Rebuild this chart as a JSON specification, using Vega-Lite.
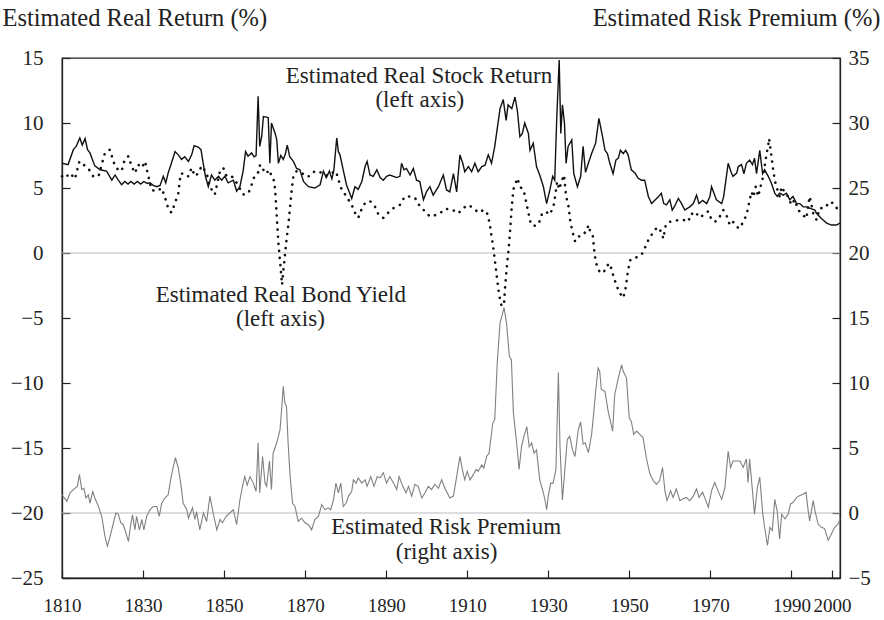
{
  "$schema": "https://vega.github.io/schema/vega-lite/v6.json",
  "width": 778,
  "height": 520,
  "autosize": {"type": "none"},
  "padding": {"left": 62, "top": 58, "right": 44, "bottom": 42},
  "background": "white",
  "config": {
    "font": "Liberation Serif",
    "view": {"stroke": "#222", "strokeWidth": 1.3},
    "axis": {
      "domainColor": "#222", "tickColor": "#222", "labelColor": "#222", "titleColor": "#222",
      "labelFont": "Liberation Serif", "titleFont": "Liberation Serif",
      "labelFontSize": 21, "titleFontSize": 24.5, "titleFontWeight": "normal",
      "grid": false, "tickSize": -8, "domainWidth": 1.3, "tickWidth": 1.2, "labelOverlap": false, "labelFlush": false
    },
    "axisX": {"labelFontSize": 19}
  },
  "datasets": {
    "stock": [
      {"year":1810.0,"v":6.9},{"year":1811.5,"v":6.8},{"year":1812.8,"v":7.95},{"year":1813.5,"v":8.2},{"year":1814.4,"v":8.85},{"year":1815.0,"v":8.3},{"year":1815.7,"v":8.8},{"year":1816.3,"v":7.95},{"year":1816.9,"v":7.7},{"year":1817.5,"v":7.2},{"year":1818.1,"v":6.7},{"year":1819.4,"v":6.4},{"year":1821.0,"v":6.3},{"year":1822.3,"v":5.6},{"year":1823.1,"v":6.0},{"year":1823.9,"v":5.6},{"year":1824.7,"v":5.25},{"year":1825.5,"v":5.5},{"year":1826.3,"v":5.3},{"year":1827.0,"v":5.5},{"year":1827.8,"v":5.3},{"year":1828.6,"v":5.5},{"year":1829.4,"v":5.3},{"year":1830.2,"v":5.5},{"year":1831.0,"v":5.35},{"year":1831.7,"v":5.4},{"year":1832.5,"v":5.2},{"year":1833.4,"v":5.1},{"year":1834.2,"v":5.2},{"year":1835.0,"v":5.9},{"year":1835.6,"v":5.4},{"year":1836.2,"v":6.15},{"year":1837.0,"v":6.9},{"year":1837.9,"v":7.8},{"year":1838.7,"v":7.55},{"year":1839.5,"v":7.2},{"year":1840.3,"v":7.4},{"year":1841.2,"v":7.05},{"year":1842.0,"v":7.55},{"year":1842.6,"v":8.25},{"year":1843.6,"v":8.15},{"year":1844.3,"v":7.95},{"year":1844.9,"v":6.8},{"year":1845.4,"v":5.9},{"year":1846.1,"v":5.1},{"year":1846.9,"v":6.0},{"year":1847.7,"v":5.6},{"year":1848.6,"v":5.9},{"year":1849.4,"v":5.6},{"year":1850.2,"v":5.9},{"year":1851.0,"v":5.4},{"year":1852.3,"v":5.6},{"year":1853.1,"v":4.75},{"year":1853.9,"v":5.1},{"year":1854.7,"v":6.3},{"year":1855.3,"v":7.8},{"year":1855.9,"v":7.45},{"year":1856.8,"v":7.7},{"year":1857.4,"v":7.4},{"year":1857.9,"v":7.5},{"year":1858.4,"v":12.05},{"year":1858.8,"v":8.2},{"year":1859.3,"v":9.0},{"year":1859.7,"v":10.5},{"year":1860.5,"v":10.45},{"year":1860.9,"v":10.4},{"year":1861.3,"v":6.9},{"year":1861.7,"v":10.0},{"year":1862.6,"v":9.2},{"year":1863.0,"v":8.7},{"year":1863.4,"v":6.9},{"year":1864.0,"v":7.5},{"year":1864.6,"v":7.2},{"year":1865.1,"v":7.6},{"year":1865.6,"v":8.3},{"year":1866.2,"v":7.4},{"year":1867.1,"v":7.05},{"year":1867.9,"v":6.5},{"year":1868.7,"v":6.4},{"year":1869.6,"v":5.5},{"year":1870.8,"v":5.1},{"year":1872.4,"v":5.0},{"year":1873.7,"v":5.25},{"year":1874.5,"v":6.3},{"year":1875.2,"v":5.8},{"year":1876.0,"v":6.3},{"year":1876.6,"v":5.7},{"year":1877.1,"v":6.4},{"year":1877.8,"v":8.85},{"year":1878.2,"v":7.8},{"year":1878.6,"v":7.55},{"year":1879.4,"v":6.4},{"year":1880.2,"v":5.25},{"year":1881.5,"v":4.2},{"year":1882.3,"v":5.1},{"year":1883.1,"v":4.9},{"year":1884.0,"v":5.5},{"year":1884.8,"v":6.65},{"year":1885.3,"v":7.05},{"year":1886.0,"v":6.0},{"year":1886.8,"v":5.9},{"year":1887.7,"v":6.4},{"year":1888.5,"v":5.8},{"year":1889.3,"v":5.6},{"year":1890.1,"v":5.9},{"year":1890.9,"v":6.0},{"year":1891.8,"v":5.9},{"year":1892.6,"v":5.8},{"year":1893.4,"v":5.9},{"year":1893.8,"v":6.9},{"year":1894.4,"v":6.4},{"year":1895.0,"v":6.5},{"year":1895.9,"v":6.0},{"year":1896.7,"v":6.5},{"year":1897.5,"v":5.6},{"year":1898.3,"v":5.5},{"year":1899.2,"v":4.1},{"year":1900.0,"v":4.75},{"year":1900.8,"v":5.1},{"year":1901.6,"v":4.45},{"year":1902.9,"v":5.1},{"year":1904.1,"v":6.0},{"year":1904.9,"v":4.85},{"year":1905.7,"v":4.7},{"year":1906.6,"v":6.1},{"year":1907.4,"v":4.7},{"year":1908.2,"v":7.55},{"year":1908.9,"v":6.9},{"year":1909.4,"v":6.25},{"year":1910.3,"v":6.65},{"year":1911.1,"v":6.25},{"year":1911.9,"v":6.9},{"year":1912.7,"v":6.25},{"year":1913.6,"v":6.65},{"year":1914.4,"v":6.75},{"year":1915.2,"v":7.55},{"year":1916.0,"v":6.9},{"year":1916.8,"v":8.2},{"year":1918.1,"v":11.1},{"year":1918.9,"v":11.8},{"year":1919.6,"v":10.2},{"year":1920.1,"v":11.4},{"year":1921.0,"v":11.1},{"year":1921.8,"v":12.0},{"year":1922.4,"v":10.9},{"year":1923.0,"v":8.95},{"year":1923.6,"v":9.2},{"year":1924.2,"v":10.0},{"year":1925.1,"v":9.2},{"year":1925.5,"v":7.9},{"year":1926.3,"v":8.45},{"year":1927.1,"v":6.65},{"year":1928.0,"v":5.9},{"year":1928.8,"v":5.1},{"year":1929.6,"v":3.8},{"year":1930.4,"v":4.85},{"year":1931.1,"v":5.9},{"year":1931.6,"v":5.6},{"year":1932.1,"v":10.4},{"year":1932.7,"v":14.85},{"year":1933.1,"v":9.2},{"year":1933.5,"v":11.4},{"year":1934.0,"v":10.0},{"year":1934.4,"v":6.9},{"year":1934.9,"v":8.2},{"year":1935.8,"v":8.7},{"year":1936.3,"v":6.1},{"year":1937.2,"v":5.1},{"year":1938.0,"v":5.9},{"year":1938.6,"v":8.2},{"year":1939.2,"v":6.2},{"year":1939.9,"v":6.9},{"year":1940.7,"v":7.65},{"year":1941.7,"v":8.45},{"year":1942.5,"v":10.35},{"year":1943.4,"v":8.95},{"year":1944.0,"v":7.9},{"year":1944.6,"v":7.65},{"year":1945.2,"v":6.9},{"year":1946.0,"v":6.1},{"year":1946.7,"v":7.15},{"year":1947.3,"v":7.3},{"year":1947.8,"v":7.9},{"year":1948.5,"v":7.65},{"year":1949.1,"v":7.9},{"year":1949.7,"v":7.55},{"year":1950.5,"v":6.4},{"year":1951.4,"v":6.15},{"year":1952.2,"v":5.75},{"year":1953.0,"v":5.6},{"year":1953.8,"v":5.6},{"year":1954.7,"v":4.35},{"year":1955.5,"v":3.8},{"year":1956.3,"v":4.05},{"year":1957.1,"v":4.3},{"year":1957.9,"v":4.6},{"year":1958.5,"v":3.8},{"year":1959.2,"v":3.7},{"year":1960.0,"v":4.1},{"year":1960.6,"v":3.3},{"year":1961.2,"v":3.6},{"year":1962.1,"v":4.2},{"year":1962.9,"v":3.8},{"year":1963.7,"v":3.3},{"year":1964.9,"v":3.55},{"year":1965.8,"v":3.8},{"year":1966.6,"v":4.45},{"year":1967.2,"v":3.8},{"year":1968.1,"v":4.05},{"year":1969.1,"v":3.8},{"year":1969.9,"v":4.35},{"year":1970.3,"v":5.1},{"year":1970.9,"v":4.6},{"year":1971.5,"v":4.1},{"year":1972.8,"v":3.8},{"year":1973.3,"v":4.35},{"year":1974.4,"v":6.9},{"year":1975.2,"v":6.15},{"year":1975.6,"v":5.9},{"year":1976.5,"v":6.15},{"year":1976.9,"v":6.65},{"year":1977.7,"v":6.8},{"year":1978.3,"v":6.1},{"year":1978.9,"v":6.9},{"year":1979.7,"v":7.15},{"year":1980.4,"v":6.8},{"year":1980.9,"v":7.3},{"year":1981.4,"v":6.1},{"year":1982.2,"v":7.9},{"year":1982.9,"v":6.1},{"year":1983.4,"v":6.4},{"year":1984.3,"v":5.9},{"year":1985.1,"v":5.35},{"year":1985.9,"v":4.6},{"year":1986.5,"v":4.35},{"year":1987.1,"v":4.6},{"year":1988.0,"v":4.45},{"year":1988.8,"v":4.6},{"year":1989.6,"v":4.1},{"year":1990.4,"v":4.35},{"year":1991.3,"v":3.8},{"year":1992.1,"v":3.8},{"year":1992.9,"v":3.55},{"year":1993.7,"v":3.55},{"year":1995.0,"v":3.4},{"year":1995.8,"v":3.3},{"year":1996.2,"v":3.05},{"year":1997.4,"v":2.65},{"year":1998.7,"v":2.3},{"year":1999.9,"v":2.15},{"year":2001.1,"v":2.15},{"year":2002.0,"v":2.3}
    ],
    "bond": [
      {"year":1810.0,"v":5.9},{"year":1810.7,"v":5.75},{"year":1812.0,"v":6.15},{"year":1813.2,"v":5.7},{"year":1814.3,"v":7.05},{"year":1815.3,"v":6.8},{"year":1816.5,"v":6.5},{"year":1817.7,"v":5.9},{"year":1819.0,"v":5.9},{"year":1820.6,"v":7.7},{"year":1821.8,"v":7.95},{"year":1822.7,"v":7.05},{"year":1823.1,"v":6.65},{"year":1823.9,"v":6.4},{"year":1824.7,"v":6.3},{"year":1825.5,"v":7.2},{"year":1826.4,"v":7.45},{"year":1827.2,"v":6.65},{"year":1828.0,"v":6.15},{"year":1828.8,"v":6.8},{"year":1829.7,"v":6.55},{"year":1830.5,"v":7.05},{"year":1831.3,"v":5.9},{"year":1832.1,"v":4.85},{"year":1833.4,"v":4.75},{"year":1834.6,"v":5.0},{"year":1835.6,"v":4.1},{"year":1836.2,"v":3.45},{"year":1837.0,"v":3.1},{"year":1837.9,"v":3.85},{"year":1838.7,"v":4.6},{"year":1839.1,"v":5.65},{"year":1839.5,"v":6.15},{"year":1840.3,"v":5.9},{"year":1841.2,"v":5.9},{"year":1842.0,"v":6.55},{"year":1842.8,"v":5.9},{"year":1843.5,"v":6.1},{"year":1844.5,"v":6.7},{"year":1845.7,"v":6.15},{"year":1846.5,"v":5.1},{"year":1847.7,"v":4.5},{"year":1849.0,"v":6.3},{"year":1849.8,"v":6.55},{"year":1850.6,"v":5.9},{"year":1851.9,"v":5.9},{"year":1853.1,"v":5.4},{"year":1854.7,"v":4.5},{"year":1856.0,"v":4.6},{"year":1856.8,"v":5.25},{"year":1857.6,"v":6.0},{"year":1858.4,"v":6.2},{"year":1858.9,"v":6.8},{"year":1859.7,"v":6.4},{"year":1860.3,"v":6.1},{"year":1861.2,"v":6.4},{"year":1861.7,"v":5.9},{"year":1862.2,"v":5.7},{"year":1862.6,"v":4.9},{"year":1863.0,"v":2.8},{"year":1863.4,"v":0.8},{"year":1864.0,"v":-1.3},{"year":1864.3,"v":-2.45},{"year":1864.6,"v":-1.4},{"year":1865.0,"v":-0.2},{"year":1865.4,"v":1.0},{"year":1865.9,"v":2.3},{"year":1866.3,"v":3.6},{"year":1866.7,"v":4.9},{"year":1867.1,"v":5.9},{"year":1867.9,"v":6.3},{"year":1869.1,"v":6.2},{"year":1870.0,"v":5.9},{"year":1871.0,"v":5.9},{"year":1872.4,"v":6.3},{"year":1873.3,"v":6.3},{"year":1874.1,"v":6.15},{"year":1874.9,"v":6.0},{"year":1875.7,"v":5.95},{"year":1876.5,"v":6.15},{"year":1877.6,"v":6.3},{"year":1878.2,"v":5.65},{"year":1879.0,"v":4.9},{"year":1880.2,"v":4.35},{"year":1881.5,"v":3.7},{"year":1882.3,"v":3.1},{"year":1883.1,"v":2.7},{"year":1883.9,"v":3.35},{"year":1884.8,"v":3.85},{"year":1886.0,"v":4.0},{"year":1887.2,"v":3.6},{"year":1888.1,"v":2.95},{"year":1889.3,"v":2.7},{"year":1890.5,"v":3.1},{"year":1891.8,"v":3.45},{"year":1893.4,"v":3.7},{"year":1894.6,"v":4.35},{"year":1895.9,"v":4.35},{"year":1897.1,"v":4.25},{"year":1898.3,"v":3.6},{"year":1899.6,"v":3.2},{"year":1900.8,"v":2.8},{"year":1902.0,"v":2.9},{"year":1903.3,"v":3.05},{"year":1904.5,"v":3.4},{"year":1906.2,"v":3.35},{"year":1907.8,"v":3.05},{"year":1909.0,"v":3.45},{"year":1910.3,"v":3.7},{"year":1911.5,"v":3.45},{"year":1912.8,"v":3.1},{"year":1914.0,"v":3.3},{"year":1914.8,"v":3.2},{"year":1915.6,"v":2.2},{"year":1916.0,"v":1.3},{"year":1916.5,"v":0.25},{"year":1916.9,"v":-0.75},{"year":1917.3,"v":-1.8},{"year":1917.7,"v":-2.8},{"year":1918.1,"v":-3.6},{"year":1918.5,"v":-4.1},{"year":1919.1,"v":-3.85},{"year":1919.3,"v":-2.8},{"year":1919.7,"v":-1.3},{"year":1920.2,"v":0.25},{"year":1920.6,"v":1.8},{"year":1921.0,"v":3.6},{"year":1921.4,"v":4.9},{"year":1921.8,"v":5.25},{"year":1922.4,"v":5.75},{"year":1923.0,"v":5.1},{"year":1923.9,"v":4.85},{"year":1924.5,"v":4.0},{"year":1925.1,"v":3.1},{"year":1925.7,"v":2.2},{"year":1926.7,"v":2.1},{"year":1927.6,"v":2.2},{"year":1928.4,"v":2.95},{"year":1929.2,"v":3.2},{"year":1929.8,"v":3.1},{"year":1930.4,"v":2.95},{"year":1931.3,"v":3.6},{"year":1931.8,"v":4.6},{"year":1932.2,"v":5.5},{"year":1932.7,"v":4.9},{"year":1933.3,"v":5.5},{"year":1933.9,"v":6.0},{"year":1934.4,"v":4.35},{"year":1935.0,"v":3.6},{"year":1935.5,"v":2.3},{"year":1936.0,"v":1.65},{"year":1936.6,"v":0.9},{"year":1937.2,"v":1.0},{"year":1937.8,"v":1.4},{"year":1938.7,"v":1.5},{"year":1939.5,"v":1.65},{"year":1939.9,"v":2.15},{"year":1940.5,"v":1.5},{"year":1941.0,"v":1.3},{"year":1941.5,"v":-0.25},{"year":1942.0,"v":-1.0},{"year":1942.6,"v":-1.4},{"year":1943.6,"v":-1.55},{"year":1944.4,"v":-1.0},{"year":1945.2,"v":-0.8},{"year":1946.1,"v":-1.8},{"year":1946.9,"v":-2.55},{"year":1947.7,"v":-3.1},{"year":1948.5,"v":-3.45},{"year":1949.1,"v":-2.7},{"year":1949.7,"v":-1.3},{"year":1950.3,"v":-0.5},{"year":1951.0,"v":-0.4},{"year":1952.2,"v":-0.3},{"year":1953.0,"v":-0.15},{"year":1953.8,"v":0.35},{"year":1954.7,"v":1.0},{"year":1955.7,"v":1.5},{"year":1956.9,"v":2.0},{"year":1957.9,"v":1.65},{"year":1958.4,"v":1.1},{"year":1959.0,"v":2.15},{"year":1959.8,"v":2.4},{"year":1960.8,"v":2.4},{"year":1962.1,"v":2.55},{"year":1963.3,"v":2.55},{"year":1964.5,"v":2.4},{"year":1965.4,"v":3.05},{"year":1966.2,"v":2.8},{"year":1967.0,"v":3.05},{"year":1967.8,"v":2.8},{"year":1968.6,"v":3.05},{"year":1969.5,"v":3.2},{"year":1970.3,"v":2.55},{"year":1971.1,"v":2.4},{"year":1971.9,"v":2.55},{"year":1973.2,"v":3.3},{"year":1974.0,"v":2.9},{"year":1974.8,"v":2.15},{"year":1975.6,"v":2.4},{"year":1976.5,"v":2.0},{"year":1977.3,"v":1.9},{"year":1978.1,"v":2.4},{"year":1978.9,"v":2.9},{"year":1979.3,"v":3.4},{"year":1979.7,"v":4.1},{"year":1980.2,"v":4.7},{"year":1980.6,"v":4.3},{"year":1981.2,"v":5.1},{"year":1981.8,"v":4.35},{"year":1982.6,"v":5.35},{"year":1983.0,"v":5.85},{"year":1983.4,"v":6.65},{"year":1983.9,"v":7.65},{"year":1984.3,"v":8.3},{"year":1984.5,"v":8.8},{"year":1985.1,"v":7.4},{"year":1985.5,"v":6.4},{"year":1985.9,"v":5.6},{"year":1986.3,"v":5.1},{"year":1987.1,"v":4.35},{"year":1987.6,"v":5.1},{"year":1988.4,"v":4.6},{"year":1989.2,"v":4.35},{"year":1990.0,"v":3.7},{"year":1990.8,"v":4.1},{"year":1991.7,"v":3.3},{"year":1992.5,"v":3.05},{"year":1993.7,"v":2.65},{"year":1994.5,"v":4.35},{"year":1995.4,"v":3.05},{"year":1996.2,"v":2.55},{"year":1997.0,"v":3.45},{"year":1998.2,"v":3.45},{"year":1999.5,"v":3.95},{"year":2000.5,"v":3.8},{"year":2001.5,"v":3.3}
    ],
    "premium": [
      {"year":1810.0,"v":1.4},{"year":1811.2,"v":0.9},{"year":1812.0,"v":1.55},{"year":1812.8,"v":1.8},{"year":1813.8,"v":2.05},{"year":1814.3,"v":2.95},{"year":1814.9,"v":1.8},{"year":1815.4,"v":1.9},{"year":1815.9,"v":1.15},{"year":1816.5,"v":1.4},{"year":1816.9,"v":0.75},{"year":1817.6,"v":1.65},{"year":1818.1,"v":1.15},{"year":1819.0,"v":0.5},{"year":1819.8,"v":-0.25},{"year":1820.6,"v":-1.8},{"year":1821.2,"v":-2.55},{"year":1821.8,"v":-1.9},{"year":1822.7,"v":-0.75},{"year":1823.3,"v":0.0},{"year":1823.9,"v":-0.1},{"year":1824.5,"v":-0.75},{"year":1825.1,"v":-0.9},{"year":1825.8,"v":-1.55},{"year":1826.4,"v":-2.2},{"year":1826.9,"v":-1.0},{"year":1827.4,"v":-0.15},{"year":1828.0,"v":-1.3},{"year":1828.4,"v":-0.25},{"year":1829.1,"v":-1.3},{"year":1829.7,"v":-0.5},{"year":1830.2,"v":-1.3},{"year":1830.9,"v":-0.25},{"year":1831.7,"v":0.25},{"year":1832.5,"v":0.5},{"year":1833.4,"v":0.5},{"year":1834.0,"v":-0.25},{"year":1834.6,"v":0.75},{"year":1835.4,"v":1.15},{"year":1836.2,"v":1.4},{"year":1836.8,"v":2.55},{"year":1837.5,"v":3.6},{"year":1838.0,"v":4.25},{"year":1838.7,"v":3.45},{"year":1839.3,"v":2.3},{"year":1839.9,"v":0.75},{"year":1840.8,"v":0.25},{"year":1841.2,"v":-0.4},{"year":1841.7,"v":0.0},{"year":1842.2,"v":0.4},{"year":1842.8,"v":-0.5},{"year":1843.2,"v":0.1},{"year":1844.0,"v":-1.3},{"year":1844.9,"v":0.0},{"year":1845.7,"v":-0.65},{"year":1846.5,"v":1.3},{"year":1847.3,"v":0.0},{"year":1848.2,"v":-1.3},{"year":1849.0,"v":-0.5},{"year":1849.6,"v":-0.75},{"year":1850.5,"v":-0.25},{"year":1851.4,"v":0.0},{"year":1852.3,"v":0.25},{"year":1853.1,"v":-0.9},{"year":1853.9,"v":1.0},{"year":1854.7,"v":2.3},{"year":1855.1,"v":2.8},{"year":1855.7,"v":2.15},{"year":1856.4,"v":2.8},{"year":1857.2,"v":2.3},{"year":1857.9,"v":1.65},{"year":1858.4,"v":5.4},{"year":1858.8,"v":1.55},{"year":1859.5,"v":4.35},{"year":1860.1,"v":2.3},{"year":1860.5,"v":2.05},{"year":1861.2,"v":4.0},{"year":1861.7,"v":1.8},{"year":1862.1,"v":4.6},{"year":1863.0,"v":5.4},{"year":1863.8,"v":6.4},{"year":1864.2,"v":7.95},{"year":1864.6,"v":9.75},{"year":1865.0,"v":8.45},{"year":1865.4,"v":8.2},{"year":1865.8,"v":5.4},{"year":1866.3,"v":2.8},{"year":1866.9,"v":0.75},{"year":1867.5,"v":0.5},{"year":1868.3,"v":-0.65},{"year":1869.1,"v":-0.4},{"year":1870.0,"v":-0.75},{"year":1870.8,"v":-0.9},{"year":1871.6,"v":-1.3},{"year":1872.4,"v":-0.5},{"year":1873.3,"v":-0.25},{"year":1874.1,"v":0.65},{"year":1874.9,"v":0.25},{"year":1875.7,"v":0.4},{"year":1876.3,"v":0.25},{"year":1877.0,"v":1.0},{"year":1877.6,"v":2.3},{"year":1878.2,"v":1.55},{"year":1878.8,"v":2.3},{"year":1879.4,"v":0.5},{"year":1880.1,"v":0.75},{"year":1880.7,"v":1.3},{"year":1881.5,"v":1.65},{"year":1881.9,"v":2.55},{"year":1882.6,"v":2.3},{"year":1883.1,"v":2.7},{"year":1884.0,"v":2.3},{"year":1884.8,"v":2.55},{"year":1885.3,"v":2.05},{"year":1886.2,"v":2.8},{"year":1887.0,"v":2.05},{"year":1887.8,"v":2.8},{"year":1888.5,"v":2.7},{"year":1889.3,"v":3.1},{"year":1890.1,"v":2.3},{"year":1890.9,"v":2.8},{"year":1891.8,"v":2.3},{"year":1892.6,"v":1.8},{"year":1893.2,"v":2.8},{"year":1894.1,"v":2.05},{"year":1894.9,"v":1.55},{"year":1895.5,"v":2.05},{"year":1896.3,"v":1.3},{"year":1897.1,"v":2.2},{"year":1897.9,"v":2.05},{"year":1898.8,"v":1.15},{"year":1899.6,"v":1.55},{"year":1900.4,"v":2.05},{"year":1901.2,"v":1.8},{"year":1902.0,"v":2.2},{"year":1902.9,"v":1.9},{"year":1903.7,"v":2.55},{"year":1904.5,"v":1.9},{"year":1905.7,"v":1.15},{"year":1906.6,"v":1.3},{"year":1907.4,"v":2.8},{"year":1908.2,"v":4.35},{"year":1908.9,"v":3.2},{"year":1909.4,"v":2.55},{"year":1910.0,"v":3.2},{"year":1910.7,"v":2.55},{"year":1911.5,"v":2.95},{"year":1912.2,"v":3.35},{"year":1912.7,"v":3.2},{"year":1913.6,"v":3.7},{"year":1914.1,"v":3.45},{"year":1914.8,"v":4.35},{"year":1915.4,"v":4.6},{"year":1916.3,"v":6.9},{"year":1916.8,"v":7.2},{"year":1917.4,"v":11.5},{"year":1918.1,"v":14.6},{"year":1919.1,"v":15.8},{"year":1919.7,"v":14.6},{"year":1920.4,"v":12.05},{"year":1920.9,"v":11.8},{"year":1921.4,"v":7.7},{"year":1922.2,"v":5.4},{"year":1922.8,"v":3.35},{"year":1923.4,"v":5.1},{"year":1924.0,"v":5.9},{"year":1924.7,"v":6.65},{"year":1925.3,"v":5.1},{"year":1925.9,"v":5.4},{"year":1926.5,"v":4.6},{"year":1927.1,"v":4.85},{"year":1927.9,"v":2.55},{"year":1928.8,"v":1.55},{"year":1929.2,"v":1.0},{"year":1929.6,"v":0.25},{"year":1930.0,"v":1.3},{"year":1930.6,"v":2.3},{"year":1931.2,"v":2.3},{"year":1931.9,"v":3.35},{"year":1932.5,"v":10.8},{"year":1932.9,"v":5.1},{"year":1933.5,"v":1.0},{"year":1934.1,"v":3.35},{"year":1934.7,"v":5.65},{"year":1935.3,"v":5.9},{"year":1936.0,"v":4.85},{"year":1936.6,"v":4.35},{"year":1937.4,"v":6.4},{"year":1938.0,"v":7.0},{"year":1938.6,"v":5.3},{"year":1939.1,"v":5.4},{"year":1939.9,"v":4.65},{"year":1940.7,"v":6.05},{"year":1941.1,"v":7.3},{"year":1941.7,"v":9.35},{"year":1942.3,"v":11.15},{"year":1942.7,"v":10.9},{"year":1943.1,"v":9.5},{"year":1944.0,"v":9.35},{"year":1944.8,"v":7.8},{"year":1945.9,"v":6.3},{"year":1946.4,"v":9.1},{"year":1947.3,"v":10.4},{"year":1948.1,"v":11.4},{"year":1948.5,"v":10.9},{"year":1949.3,"v":10.4},{"year":1950.0,"v":7.3},{"year":1950.5,"v":7.05},{"year":1951.1,"v":6.05},{"year":1951.8,"v":6.3},{"year":1952.6,"v":6.05},{"year":1953.4,"v":5.8},{"year":1954.2,"v":4.25},{"year":1955.1,"v":3.0},{"year":1955.9,"v":2.5},{"year":1956.7,"v":2.2},{"year":1957.5,"v":2.5},{"year":1958.2,"v":3.5},{"year":1958.8,"v":1.7},{"year":1959.3,"v":0.95},{"year":1960.2,"v":1.7},{"year":1960.8,"v":1.2},{"year":1961.6,"v":1.85},{"year":1962.5,"v":0.95},{"year":1963.3,"v":1.1},{"year":1964.1,"v":1.2},{"year":1964.9,"v":0.95},{"year":1965.8,"v":1.3},{"year":1966.6,"v":1.85},{"year":1967.2,"v":1.2},{"year":1968.1,"v":1.6},{"year":1968.9,"v":0.95},{"year":1969.5,"v":0.45},{"year":1970.3,"v":1.7},{"year":1971.1,"v":2.35},{"year":1971.9,"v":1.7},{"year":1972.8,"v":1.05},{"year":1973.6,"v":1.95},{"year":1974.4,"v":4.75},{"year":1975.0,"v":3.5},{"year":1975.6,"v":4.0},{"year":1976.5,"v":4.0},{"year":1977.3,"v":4.0},{"year":1978.1,"v":3.5},{"year":1978.9,"v":4.15},{"year":1979.3,"v":2.35},{"year":1979.7,"v":4.15},{"year":1980.4,"v":1.7},{"year":1980.9,"v":-0.1},{"year":1981.6,"v":1.95},{"year":1982.2,"v":2.75},{"year":1982.9,"v":0.05},{"year":1983.4,"v":-1.1},{"year":1984.1,"v":-2.5},{"year":1984.7,"v":-1.1},{"year":1985.3,"v":-1.35},{"year":1985.9,"v":1.05},{"year":1986.5,"v":0.15},{"year":1987.1,"v":-2.0},{"year":1987.6,"v":-0.1},{"year":1988.4,"v":-0.45},{"year":1989.2,"v":-0.1},{"year":1989.8,"v":0.7},{"year":1990.4,"v":0.8},{"year":1991.3,"v":1.2},{"year":1992.1,"v":1.35},{"year":1992.9,"v":1.45},{"year":1993.6,"v":1.6},{"year":1994.1,"v":0.3},{"year":1994.5,"v":-0.6},{"year":1995.4,"v":0.95},{"year":1995.8,"v":0.2},{"year":1996.6,"v":-0.85},{"year":1997.4,"v":-1.1},{"year":1998.2,"v":-1.2},{"year":1999.1,"v":-2.1},{"year":1999.9,"v":-1.6},{"year":2000.7,"v":-1.1},{"year":2001.5,"v":-0.85},{"year":2002.0,"v":-0.45}
    ],
    "labels": [
      {"text":"Estimated Real Stock Return","year":1898.1,"v":13.05},
      {"text":"(left axis)","year":1898.3,"v":11.2},
      {"text":"Estimated Real Bond Yield","year":1864.0,"v":-3.8},
      {"text":"(left axis)","year":1863.9,"v":-5.65},
      {"text":"Estimated Risk Premium","year":1904.8,"v":-21.65},
      {"text":"(right axis)","year":1904.9,"v":-23.5}
    ],
    "refs": [{"v":0},{"v":-20}]
  },
  "layer": [
    {
      "layer": [
        {
          "data": {"name": "refs"},
          "mark": {"type": "rule", "color": "#bbbbbb", "strokeWidth": 1},
          "encoding": {
            "y": {"field": "v", "type": "quantitative", "scale": {"domain": [-25, 15], "nice": false},
              "axis": {"orient": "left", "values": [-25,-20,-15,-10,-5,0,5,10,15], "labelPadding": 27,
                "title": "Estimated Real Return (%)", "titleAngle": 0, "titleAlign": "left", "titleBaseline": "alphabetic", "titleX": -60, "titleY": -33}}
          }
        },
        {
          "data": {"name": "bond"},
          "mark": {"type": "line", "color": "#111", "strokeWidth": 2.6, "strokeDash": [0.1, 7], "strokeCap": "round"},
          "encoding": {
            "x": {"field": "year", "type": "quantitative", "scale": {"domain": [1810, 2002], "nice": false, "zero": false},
              "axis": {"values": [1810,1830,1850,1870,1890,1910,1930,1950,1970,1990,2000], "format": "d", "labelPadding": 26, "title": null}},
            "y": {"field": "v", "type": "quantitative"}
          }
        },
        {
          "data": {"name": "stock"},
          "mark": {"type": "line", "color": "#111", "strokeWidth": 1.4},
          "encoding": {
            "x": {"field": "year", "type": "quantitative", "scale": {"domain": [1810, 2002], "nice": false, "zero": false},
              "axis": {"values": [1810,1830,1850,1870,1890,1910,1930,1950,1970,1990,2000], "format": "d", "labelPadding": 26, "title": null}},
            "y": {"field": "v", "type": "quantitative"}
          }
        },
        {
          "data": {"name": "labels"},
          "mark": {"type": "text", "font": "Liberation Serif", "fontSize": 23, "color": "#222", "align": "center", "baseline": "alphabetic"},
          "encoding": {
            "x": {"field": "year", "type": "quantitative", "scale": {"domain": [1810, 2002], "nice": false, "zero": false},
              "axis": {"values": [1810,1830,1850,1870,1890,1910,1930,1950,1970,1990,2000], "format": "d", "labelPadding": 26, "title": null}},
            "y": {"field": "v", "type": "quantitative"},
            "text": {"field": "text"}
          }
        }
      ]
    },
    {
      "data": {"name": "premium"},
      "mark": {"type": "line", "color": "#808080", "strokeWidth": 1.1},
      "encoding": {
        "x": {"field": "year", "type": "quantitative", "scale": {"domain": [1810, 2002], "nice": false, "zero": false},
          "axis": {"values": [1810,1830,1850,1870,1890,1910,1930,1950,1970,1990,2000], "format": "d", "labelPadding": 26, "title": null}},
        "y": {"field": "v", "type": "quantitative", "scale": {"domain": [-5, 35], "nice": false, "zero": false},
          "axis": {"orient": "right", "values": [-5,0,5,10,15,20,25,30,35], "labelPadding": 16,
            "title": "Estimated Risk Premium (%)", "titleAngle": 0, "titleAlign": "right", "titleBaseline": "alphabetic", "titleX": 40, "titleY": -33}}
      }
    }
  ],
  "resolve": {"scale": {"y": "independent"}}
}
